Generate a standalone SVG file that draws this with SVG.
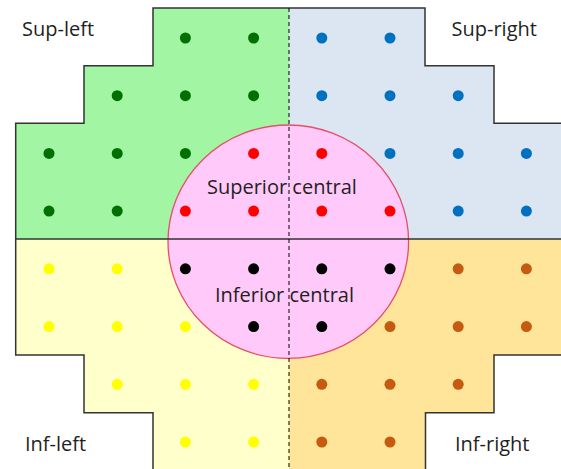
<svg xmlns="http://www.w3.org/2000/svg" width="561" height="469" viewBox="0 0 561 469">
<style>
.lbl{font-family:"Open Sans","Liberation Sans",sans-serif;font-size:20px;fill:#1f1f1f}
.g{fill:#007000}.b{fill:#0070c0}.r{fill:#ff0000}.k{fill:#000}.y{fill:#ffff00}.o{fill:#c65a11}
.edge{fill:none;stroke:#333;stroke-width:1.5}
</style>
<rect width="561" height="469" fill="#fff"/>
<g id="sup-left">
<polygon points="153,8 289,8 289,239 15.7,239 15.7,123.3 84,123.3 84,65.7 153,65.7" fill="#a2f5a2"/>
</g>
<g id="sup-right">
<polygon points="289,8 425,8 425,65.7 494,65.7 494,123.3 562,123.3 562,239 289,239" fill="#dce6f2"/>
</g>
<g id="inf-left">
<polygon points="15.7,239 289,239 289,470 153,470 153,412.7 84,412.7 84,355 15.7,355" fill="#ffffcc"/>
</g>
<g id="inf-right">
<polygon points="289,239 562,239 562,355 494,355 494,412.7 425.5,412.7 425.5,470 289,470" fill="#ffe599"/>
</g>
<g id="central">
<ellipse cx="288.3" cy="241.7" rx="120.3" ry="116.7" fill="#ffcafa" stroke="#e4506a" stroke-width="1.3"/>
</g>
<g id="connectors">
<path class="edge" d="M153,470 V412.7 H84 V355 H15.7 V123.3 H84 V65.7 H153 V8 H425 V65.7 H494 V123.3 H562"/>
<path class="edge" d="M562,355 H494 V412.7 H425.5 V470"/>
<line x1="15.7" y1="239" x2="562" y2="239" stroke="#333" stroke-width="1.3"/>
</g>
<g id="dots">
<circle class="g" cx="185.4" cy="38" r="5.5"/><circle class="g" cx="253.6" cy="38" r="5.5"/>
<circle class="b" cx="321.8" cy="38" r="5.5"/><circle class="b" cx="390" cy="38" r="5.5"/>
<circle class="g" cx="117.2" cy="95.7" r="5.5"/><circle class="g" cx="185.4" cy="95.7" r="5.5"/><circle class="g" cx="253.6" cy="95.7" r="5.5"/>
<circle class="b" cx="321.8" cy="95.7" r="5.5"/><circle class="b" cx="390" cy="95.7" r="5.5"/><circle class="b" cx="458.2" cy="95.7" r="5.5"/>
<circle class="g" cx="49" cy="153.4" r="5.5"/><circle class="g" cx="117.2" cy="153.4" r="5.5"/><circle class="g" cx="185.4" cy="153.4" r="5.5"/>
<circle class="r" cx="253.6" cy="153.4" r="5.5"/><circle class="r" cx="321.8" cy="153.4" r="5.5"/>
<circle class="b" cx="390" cy="153.4" r="5.5"/><circle class="b" cx="458.2" cy="153.4" r="5.5"/><circle class="b" cx="526.4" cy="153.4" r="5.5"/>
<circle class="g" cx="49" cy="211.1" r="5.5"/><circle class="g" cx="117.2" cy="211.1" r="5.5"/>
<circle class="r" cx="185.4" cy="211.1" r="5.5"/><circle class="r" cx="253.6" cy="211.1" r="5.5"/><circle class="r" cx="321.8" cy="211.1" r="5.5"/><circle class="r" cx="390" cy="211.1" r="5.5"/>
<circle class="b" cx="458.2" cy="211.1" r="5.5"/><circle class="b" cx="526.4" cy="211.1" r="5.5"/>
<circle class="y" cx="49" cy="268.8" r="5.5"/><circle class="y" cx="117.2" cy="268.8" r="5.5"/>
<circle class="k" cx="185.4" cy="268.8" r="5.5"/><circle class="k" cx="253.6" cy="268.8" r="5.5"/><circle class="k" cx="321.8" cy="268.8" r="5.5"/><circle class="k" cx="390" cy="268.8" r="5.5"/>
<circle class="o" cx="458.2" cy="268.8" r="5.5"/><circle class="o" cx="526.4" cy="268.8" r="5.5"/>
<circle class="y" cx="49" cy="326.6" r="5.5"/><circle class="y" cx="117.2" cy="326.6" r="5.5"/><circle class="y" cx="185.4" cy="326.6" r="5.5"/>
<circle class="k" cx="253.6" cy="326.6" r="5.5"/><circle class="k" cx="321.8" cy="326.6" r="5.5"/>
<circle class="o" cx="390" cy="326.6" r="5.5"/><circle class="o" cx="458.2" cy="326.6" r="5.5"/><circle class="o" cx="526.4" cy="326.6" r="5.5"/>
<circle class="y" cx="117.2" cy="384.3" r="5.5"/><circle class="y" cx="185.4" cy="384.3" r="5.5"/><circle class="y" cx="253.6" cy="384.3" r="5.5"/>
<circle class="o" cx="321.8" cy="384.3" r="5.5"/><circle class="o" cx="390" cy="384.3" r="5.5"/><circle class="o" cx="458.2" cy="384.3" r="5.5"/>
<circle class="y" cx="185.4" cy="442" r="5.5"/><circle class="y" cx="253.6" cy="442" r="5.5"/>
<circle class="o" cx="321.8" cy="442" r="5.5"/><circle class="o" cx="390" cy="442" r="5.5"/>
</g>
<g id="labels">
<text class="lbl" x="22" y="35.5">Sup-left</text>
<text class="lbl" x="451.5" y="35.5">Sup-right</text>
<text class="lbl" x="25" y="450.5">Inf-left</text>
<text class="lbl" x="455" y="450.5">Inf-right</text>
<text class="lbl" x="207" y="194">Superior central</text>
<text class="lbl" x="215" y="301.5">Inferior central</text>
</g>
<line x1="289" y1="8" x2="289" y2="470" stroke="#000" stroke-width="1" stroke-dasharray="4,3"/>
</svg>
